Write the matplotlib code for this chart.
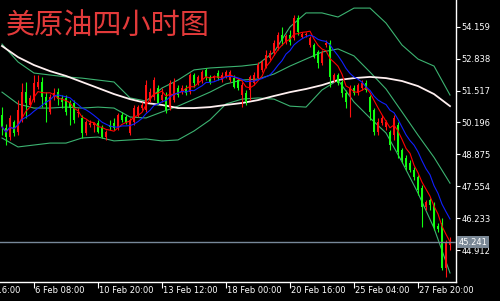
import numpy as np
import pandas as pd
import matplotlib
matplotlib.use('Agg')
import matplotlib.pyplot as plt
import matplotlib.transforms as mtransforms

# 4-hour bars, crude oil
opens = [50.50, 49.96, 49.59, 50.21, 49.80, 50.30, 51.45, 50.92, 51.12, 51.66,
         51.87, 51.25, 50.63, 51.25, 51.45, 51.21, 51.21, 51.00, 51.00, 50.59,
         50.38, 49.76, 50.09, 50.09, 50.17, 50.01, 49.59, 50.09, 50.17, 50.01,
         50.50, 50.42, 49.76, 50.21, 50.50, 50.79, 50.71, 51.12, 51.25, 51.62,
         51.12, 51.25, 50.83, 51.12, 51.62, 51.45, 51.62, 51.45, 52.16, 51.83,
         51.95, 52.37, 52.08, 52.03, 52.24, 51.95, 52.08, 51.95, 52.03, 51.95,
         51.33, 51.41, 51.54, 51.83, 52.03, 52.37, 52.49, 52.86, 53.07, 53.28,
         53.82, 53.53, 53.82, 53.69, 54.52, 53.73, 53.82, 53.40, 53.40, 53.11,
         52.66, 53.40, 53.48, 51.95, 52.16, 51.87, 51.41, 51.33, 51.62, 51.41,
         51.62, 51.83, 51.25, 50.71, 49.80, 50.17, 50.01, 49.80, 49.67, 50.09,
         49.05, 48.72, 48.52, 48.23, 47.94, 47.48, 46.69, 46.98, 46.78, 45.91,
         46.03, 44.17, 45.12]
closes = [50.01, 49.59, 50.38, 49.76, 50.71, 51.45, 51.00, 51.21, 51.83, 51.87,
          51.25, 50.92, 51.25, 51.41, 51.16, 51.04, 50.63, 50.79, 50.30, 50.63,
          49.76, 50.21, 50.17, 50.17, 49.80, 49.59, 49.80, 50.01, 49.96, 50.50,
          50.30, 50.21, 50.30, 50.79, 50.83, 50.92, 51.74, 51.45, 51.95, 51.00,
          51.33, 50.71, 51.83, 51.87, 51.33, 51.62, 51.41, 52.16, 51.83, 52.08,
          52.28, 52.08, 51.87, 52.12, 52.03, 52.16, 52.28, 52.28, 51.66, 51.62,
          51.74, 51.04, 52.08, 52.16, 52.57, 52.70, 52.99, 53.07, 53.48, 53.82,
          53.61, 53.77, 53.53, 54.52, 53.94, 53.86, 53.86, 53.69, 52.90, 52.66,
          53.07, 53.48, 52.08, 52.16, 51.83, 51.41, 51.04, 51.62, 51.41, 51.74,
          51.83, 51.54, 50.63, 49.80, 50.21, 50.38, 50.21, 49.26, 50.38, 48.97,
          48.64, 48.35, 48.23, 47.94, 47.40, 46.69, 46.90, 46.78, 45.87, 45.78,
          44.17, 45.20, 45.241]
highs = [50.83, 50.13, 50.50, 50.30, 51.12, 51.83, 51.87, 51.33, 52.16, 52.16,
         52.08, 51.45, 51.37, 51.62, 51.62, 51.33, 51.33, 51.12, 51.12, 50.79,
         50.50, 50.30, 50.30, 50.21, 50.30, 50.09, 49.88, 50.30, 50.38, 50.59,
         50.63, 50.50, 50.38, 50.92, 50.92, 51.04, 51.95, 51.62, 52.08, 51.74,
         51.62, 51.45, 51.95, 52.03, 51.74, 51.74, 51.74, 52.24, 52.24, 52.16,
         52.37, 52.45, 52.16, 52.16, 52.37, 52.28, 52.37, 52.37, 52.16, 52.03,
         51.87, 51.54, 52.16, 52.28, 52.70, 52.78, 53.20, 53.20, 53.61, 53.94,
         54.15, 53.86, 54.02, 54.64, 54.64, 53.94, 53.94, 53.77, 53.48, 53.20,
         53.20, 53.61, 53.61, 52.24, 52.24, 51.95, 51.54, 51.74, 51.74, 51.83,
         51.95, 51.95, 51.33, 50.79, 50.38, 50.50, 50.30, 49.88, 50.50, 50.21,
         49.14, 48.85, 48.64, 48.35, 48.02, 47.60, 46.98, 47.07, 46.90, 46.03,
         46.24, 45.33, 45.45]
lows = [49.67, 49.26, 49.47, 49.63, 49.67, 50.21, 50.38, 50.83, 51.04, 51.58,
        50.83, 50.21, 50.54, 51.12, 50.92, 50.79, 50.50, 50.09, 50.17, 50.42,
        49.55, 49.67, 50.01, 49.80, 49.76, 49.55, 49.47, 49.88, 49.88, 49.88,
        50.21, 50.13, 49.67, 50.09, 50.42, 50.71, 50.63, 51.04, 51.12, 50.92,
        51.04, 50.59, 50.71, 51.04, 51.25, 51.37, 51.33, 51.37, 51.66, 51.74,
        51.83, 51.95, 51.79, 51.95, 51.95, 51.87, 52.03, 51.87, 51.62, 51.54,
        50.83, 50.92, 51.12, 51.74, 51.95, 52.28, 52.45, 52.78, 52.99, 53.20,
        53.40, 53.44, 53.40, 53.61, 53.82, 53.69, 53.73, 53.32, 52.86, 52.45,
        52.57, 53.32, 51.66, 51.87, 51.74, 51.25, 50.79, 50.42, 51.33, 51.33,
        51.54, 51.45, 50.30, 49.67, 49.67, 50.09, 49.88, 49.05, 49.47, 48.72,
        48.52, 48.23, 48.14, 47.81, 47.19, 45.87, 46.57, 46.57, 45.74, 45.66,
        44.09, 43.80, 44.91]

# indicator lines read every 4 bars
ind_bars = list(range(0, 113, 4))
ma_long = [53.36, 52.90, 52.57, 52.32, 52.12, 51.87, 51.62, 51.37, 51.16, 51.00,
           50.92, 50.79, 50.79, 50.83, 50.92, 51.00, 51.12, 51.29, 51.45, 51.58,
           51.74, 51.95, 52.03, 52.08, 52.03, 51.91, 51.70, 51.37, 50.87]
bb_upper = [53.44, 52.70, 52.24, 52.16, 52.08, 52.03, 51.95, 51.87, 51.21, 51.08,
            51.62, 51.95, 52.37, 52.45, 52.49, 52.53, 52.61, 53.11, 54.15, 54.73,
            54.73, 54.56, 54.93, 54.93, 54.31, 53.40, 52.82, 52.53, 51.33]
bb_mid = [51.45, 50.96, 50.79, 50.79, 50.83, 50.79, 50.83, 50.79, 50.42, 50.38,
          50.63, 50.87, 51.16, 51.45, 51.79, 51.95, 51.99, 52.20, 52.53, 52.82,
          53.11, 53.24, 52.95, 52.28, 51.58, 50.63, 49.67, 48.75, 47.68]
bb_lower = [49.55, 49.18, 49.26, 49.34, 49.34, 49.55, 49.59, 49.43, 49.47, 49.51,
            49.43, 49.47, 49.84, 50.30, 50.96, 51.16, 51.21, 51.16, 50.87, 50.83,
            51.54, 51.95, 51.04, 50.38, 49.76, 48.56, 47.27, 45.82, 43.96]

yticks = [54.159, 52.838, 51.517, 50.196, 48.875, 47.554, 46.233, 44.912]
xtick_bars = [-8, 8, 24, 40, 56, 72, 88, 104]
xtick_labels = ['4 Feb 16:00', '6 Feb 08:00', '10 Feb 20:00', '13 Feb 12:00',
                '18 Feb 00:00', '20 Feb 16:00', '25 Feb 04:00', '27 Feb 20:00']
last_price = 45.241

df = pd.DataFrame({'open': opens, 'high': highs, 'low': lows, 'close': closes})
x = np.arange(len(df))
ma_fast = df['close'].rolling(5, min_periods=1).mean()
ma_mid = df['close'].rolling(10, min_periods=1).mean()

fig = plt.figure(figsize=(5.0, 3.01), dpi=100, facecolor='black')
ax = fig.add_axes([0, 19 / 301, 456 / 500, 282 / 301], facecolor='black')

band_col = '#3cb371'
ax.plot(ind_bars, bb_upper, color=band_col, lw=0.8)
ax.plot(ind_bars, bb_mid, color=band_col, lw=0.8)
ax.plot(ind_bars, bb_lower, color=band_col, lw=0.8)
ax.plot(ind_bars, ma_long, color='#fff0f0', lw=1.3)

up = df['close'] >= df['open']
cols = np.where(up, '#ff1010', '#10ff10')
ax.vlines(x, df['low'], df['high'], colors=cols, lw=0.8, zorder=3)
body_bottom = np.minimum(df['open'], df['close'])
body_h = np.maximum((df['close'] - df['open']).abs(), 0.03)
ax.bar(x, body_h, bottom=body_bottom, width=0.7, color=cols, linewidth=0, zorder=4)

ax.plot(x, ma_fast, color='#ff0000', lw=0.8, zorder=5)
ax.plot(x, ma_mid, color='#1020ff', lw=0.8, zorder=5)

ax.axhline(last_price, color='#778899', lw=1.0, zorder=6)

ax.set_xlim(-0.5, 113.5)
ax.set_ylim(43.587, 55.265)

for s in ['left', 'top']:
    ax.spines[s].set_visible(False)
for s in ['right', 'bottom']:
    ax.spines[s].set_color('white')
    ax.spines[s].set_linewidth(1.0)

ax.yaxis.tick_right()
ax.set_yticks(yticks)
ax.set_yticklabels(['%.3f' % v for v in yticks])
ax.tick_params(axis='y', colors='white', direction='out', length=3, width=0.8,
               labelsize=6, pad=1)
ax.set_xticks([b for b in xtick_bars if b >= 0])
ax.set_xticklabels([])
ax.tick_params(axis='x', colors='white', direction='out', length=4, width=0.8)

trans = mtransforms.blended_transform_factory(ax.transData, ax.transAxes)
for b, lab in zip(xtick_bars, xtick_labels):
    ax.text(b + 0.3, -0.013, lab, transform=trans, ha='left', va='top',
            color='white', fontsize=6, clip_on=False)

ax.text(1.006, last_price, '%.3f' % last_price, transform=ax.get_yaxis_transform(),
        ha='left', va='center', color='white', fontsize=6, zorder=10,
        bbox=dict(boxstyle='square,pad=0.15', facecolor='#7a8896', edgecolor='none'))

fig.text(0.012, 0.915, '美原油四小时图', color='#e23a3a', fontsize=21,
         family=['Noto Sans CJK SC', 'DejaVu Sans'], ha='left', va='center')

fig.savefig('out.png', dpi=100, facecolor='black')
